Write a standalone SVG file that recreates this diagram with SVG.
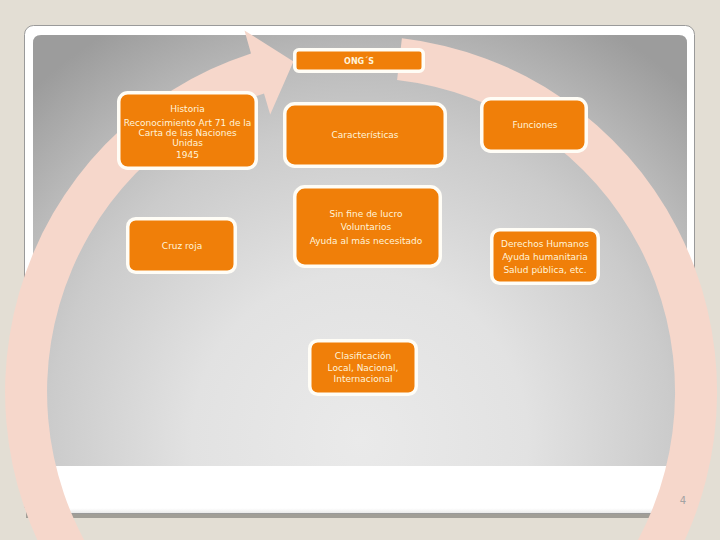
<svg xmlns="http://www.w3.org/2000/svg" width="720" height="540" viewBox="0 0 720 540">
<defs>
<radialGradient id="panelGrad" gradientUnits="userSpaceOnUse" cx="360" cy="440" r="480">
<stop offset="0" stop-color="#EAEAEA"/>
<stop offset="0.35" stop-color="#E2E2E2"/>
<stop offset="0.65" stop-color="#CBCBCB"/>
<stop offset="0.8" stop-color="#BABABA"/>
<stop offset="1" stop-color="#9C9C9C"/>
</radialGradient>
<linearGradient id="whiteBand" gradientUnits="userSpaceOnUse" x1="0" y1="466" x2="0" y2="514">
<stop offset="0" stop-color="#FFFFFF"/>
<stop offset="0.88" stop-color="#FFFFFF"/>
<stop offset="1" stop-color="#E6E6E6"/>
</linearGradient>
</defs>
<style>
.node rect { fill: #F07F09; stroke: #FFFDF6; stroke-width: 3.5; }
.node text { fill: #FFF4DA; font-family: "DejaVu Sans", Verdana, sans-serif; font-size: 9px; text-anchor: middle; }
.node text.bold { font-weight: bold; font-size: 8px; }
.pg { fill: #A3A3A3; font-family: "DejaVu Sans", sans-serif; font-size: 10px; text-anchor: middle; }
</style>
<rect x="0" y="0" width="720" height="540" fill="#E3DED4"/>
<g id="slide">
<rect x="26" y="505" width="667" height="13" fill="#A19E97"/>
<rect x="24.5" y="25.5" width="670" height="488" rx="9" fill="url(#whiteBand)" stroke="#9A9A9A" stroke-width="1"/>
<path d="M41,35 H679 Q687,35 687,43 V466 H33 V43 Q33,35 41,35 Z" fill="url(#panelGrad)"/>
</g>
<g id="connectors">
<path d="M401.9,38.3 A356,356 0 1 1 251.0,53.4 L244.5,30.5 L293.5,61.5 L270.2,114.5 L264.0,93.4 A314,314 0 1 0 397.1,80.1 Z" fill="#F6D7CB"/>
</g>
<g id="ongs" class="node">
<rect x="294.75" y="49.75" width="128.5" height="21.5" rx="4"/>
<text class="bold" x="359" y="64">ONG´S</text>
</g>
<g id="historia" class="node">
<rect x="118.75" y="92.75" width="137.5" height="75.5" rx="9"/>
<text x="187.5" y="112">Historia</text>
<text x="187.5" y="125.5">Reconocimiento Art 71 de la</text>
<text x="187.5" y="135.5">Carta de las Naciones</text>
<text x="187.5" y="145.5">Unidas</text>
<text x="187.5" y="158">1945</text>
</g>
<g id="caracteristicas" class="node">
<rect x="284.75" y="103.75" width="160.5" height="62.5" rx="10"/>
<text x="365" y="138">Características</text>
</g>
<g id="funciones" class="node">
<rect x="481.75" y="98.75" width="104.5" height="52.5" rx="9"/>
<text x="535" y="128">Funciones</text>
</g>
<g id="sinfine" class="node">
<rect x="294.75" y="186.75" width="145.5" height="79.5" rx="10"/>
<text x="366" y="217">Sin fine de lucro</text>
<text x="366" y="230">Voluntarios</text>
<text x="366" y="244">Ayuda al más necesitado</text>
</g>
<g id="derechos" class="node">
<rect x="491.75" y="229.75" width="106.5" height="53.5" rx="8"/>
<text x="545" y="247">Derechos Humanos</text>
<text x="545" y="260">Ayuda humanitaria</text>
<text x="545" y="273">Salud pública, etc.</text>
</g>
<g id="cruzroja" class="node">
<rect x="127.75" y="218.75" width="107.5" height="53.5" rx="8"/>
<text x="182" y="249">Cruz roja</text>
</g>
<g id="clasificacion" class="node">
<rect x="309.75" y="340.75" width="106.5" height="53.5" rx="8"/>
<text x="363" y="359">Clasificación</text>
<text x="363" y="371">Local, Nacional,</text>
<text x="363" y="382">Internacional</text>
</g>
<text class="pg" x="683" y="504">4</text>
</svg>
